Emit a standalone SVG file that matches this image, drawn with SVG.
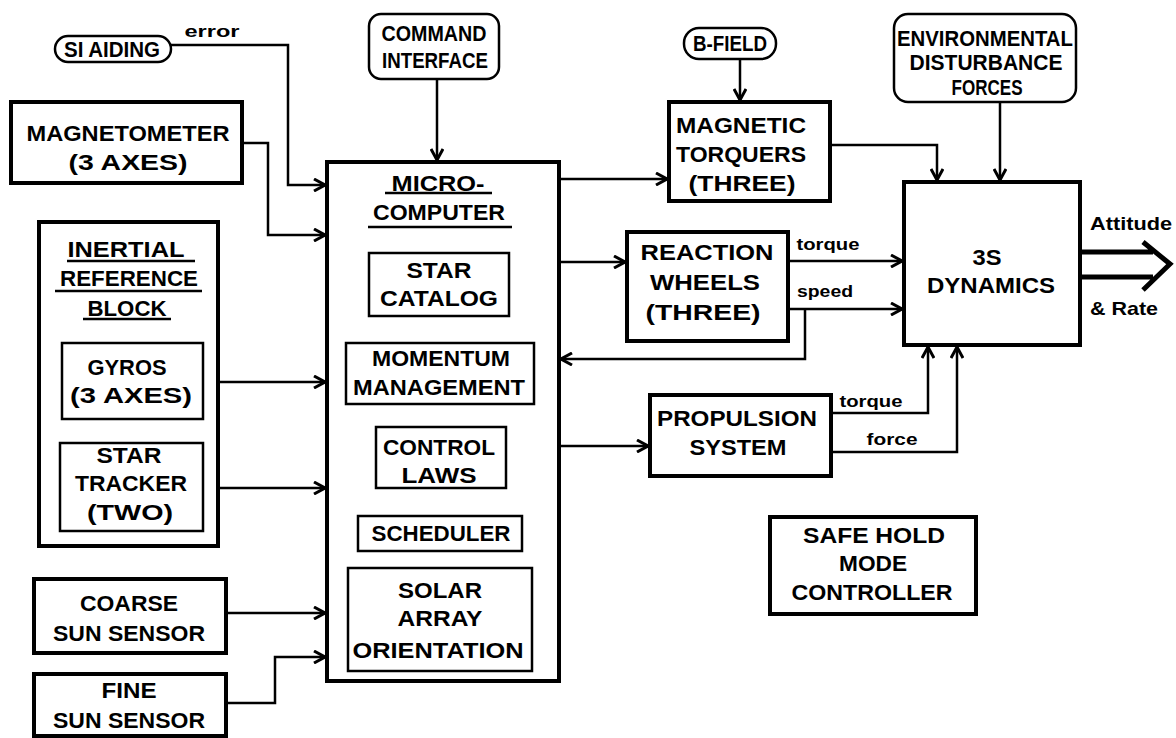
<svg xmlns="http://www.w3.org/2000/svg" width="1176" height="738" viewBox="0 0 1176 738">
<style>
.bg{fill:#fff}
.thick{fill:#fff;stroke:#000;stroke-width:4}
.thin{fill:#fff;stroke:#000;stroke-width:2.5}
.t{font-family:"Liberation Sans",Arial,sans-serif;font-weight:bold;font-size:22px;fill:#000;text-anchor:middle}
.s{font-family:"Liberation Sans",Arial,sans-serif;font-weight:bold;font-size:17px;fill:#000;text-anchor:middle}
.a{font-family:"Liberation Sans",Arial,sans-serif;font-weight:bold;font-size:19px;fill:#000;text-anchor:middle}
.c{fill:none;stroke:#000;stroke-width:2.5}
.u{stroke:#000;stroke-width:2.5}
.out{fill:none;stroke:#000;stroke-width:5}
</style>
<defs>
<marker id="ah" viewBox="0 0 14 14" refX="13" refY="7" markerWidth="14" markerHeight="14" markerUnits="userSpaceOnUse" orient="auto">
<path d="M2,1 L13,7 L2,13" fill="none" stroke="#000" stroke-width="3"/>
</marker>
</defs>
<rect class="bg" width="1176" height="738"/>

<g id="connectors">
<path class="c" d="M171,45 H288 V185 H325" marker-end="url(#ah)"/>
<path class="c" d="M242,143 H268 V235 H325" marker-end="url(#ah)"/>
<path class="c" d="M203,382 H325" marker-end="url(#ah)"/>
<path class="c" d="M203,488 H325" marker-end="url(#ah)"/>
<path class="c" d="M226,613 H325" marker-end="url(#ah)"/>
<path class="c" d="M226,703 H275 V657 H325" marker-end="url(#ah)"/>
<path class="c" d="M437,79 V160" marker-end="url(#ah)"/>
<path class="c" d="M561,179 H667" marker-end="url(#ah)"/>
<path class="c" d="M740,59 V100" marker-end="url(#ah)"/>
<path class="c" d="M830,145 H937 V180" marker-end="url(#ah)"/>
<path class="c" d="M1000,102 V180" marker-end="url(#ah)"/>
<path class="c" d="M561,262 H625" marker-end="url(#ah)"/>
<path class="c" d="M788,261 H902" marker-end="url(#ah)"/>
<path class="c" d="M788,309 H902" marker-end="url(#ah)"/>
<path class="c" d="M805,309 V359 H561" marker-end="url(#ah)"/>
<path class="c" d="M561,446 H648" marker-end="url(#ah)"/>
<path class="c" d="M831,413 H928 V347" marker-end="url(#ah)"/>
<path class="c" d="M831,452 H957 V347" marker-end="url(#ah)"/>
<path class="out" d="M1082,252 H1153 M1082,277 H1153 M1143,242 L1170,264 L1143,290"/>
<text class="s" x="212" y="37" textLength="55" lengthAdjust="spacingAndGlyphs">error</text>
<text class="s" x="828" y="250" textLength="63" lengthAdjust="spacingAndGlyphs">torque</text>
<text class="s" x="825" y="297" textLength="56" lengthAdjust="spacingAndGlyphs">speed</text>
<text class="s" x="871" y="407" textLength="63" lengthAdjust="spacingAndGlyphs">torque</text>
<text class="s" x="892" y="445" textLength="51" lengthAdjust="spacingAndGlyphs">force</text>
<text class="a" x="1131" y="230" textLength="82" lengthAdjust="spacingAndGlyphs">Attitude</text>
<text class="a" x="1124" y="315" textLength="68" lengthAdjust="spacingAndGlyphs">&amp; Rate</text>
</g>

<g id="si-aiding">
<rect class="thin" x="55" y="36" width="116" height="26" rx="13"/>
<text class="t" x="112" y="57" textLength="96" lengthAdjust="spacingAndGlyphs">SI AIDING</text>
</g>

<g id="magnetometer">
<rect class="thick" x="11" y="102" width="231" height="81"/>
<text class="t" x="128" y="141" textLength="203" lengthAdjust="spacingAndGlyphs">MAGNETOMETER</text>
<text class="t" x="128" y="170" textLength="119" lengthAdjust="spacingAndGlyphs">(3 AXES)</text>
</g>

<g id="inertial-reference-block">
<rect class="thick" x="39" y="222" width="179" height="324"/>
<text class="t" x="126" y="257" textLength="117" lengthAdjust="spacingAndGlyphs">INERTIAL</text>
<line class="u" x1="67" y1="261" x2="195" y2="261"/>
<text class="t" x="129" y="286" textLength="138" lengthAdjust="spacingAndGlyphs">REFERENCE</text>
<line class="u" x1="55" y1="291" x2="202" y2="291"/>
<text class="t" x="127" y="316" textLength="79" lengthAdjust="spacingAndGlyphs">BLOCK</text>
<line class="u" x1="83" y1="319" x2="171" y2="319"/>
</g>

<g id="gyros">
<rect class="thin" x="62" y="343" width="141" height="76"/>
<text class="t" x="127" y="375" textLength="79" lengthAdjust="spacingAndGlyphs">GYROS</text>
<text class="t" x="131" y="403" textLength="122" lengthAdjust="spacingAndGlyphs">(3 AXES)</text>
</g>

<g id="star-tracker">
<rect class="thin" x="60" y="443" width="143" height="88"/>
<text class="t" x="129" y="463" textLength="65" lengthAdjust="spacingAndGlyphs">STAR</text>
<text class="t" x="131" y="491" textLength="112" lengthAdjust="spacingAndGlyphs">TRACKER</text>
<text class="t" x="130" y="520" textLength="86" lengthAdjust="spacingAndGlyphs">(TWO)</text>
</g>

<g id="coarse-sun-sensor">
<rect class="thick" x="34" y="579" width="192" height="74"/>
<text class="t" x="129" y="611" textLength="98" lengthAdjust="spacingAndGlyphs">COARSE</text>
<text class="t" x="129" y="641" textLength="152" lengthAdjust="spacingAndGlyphs">SUN SENSOR</text>
</g>

<g id="fine-sun-sensor">
<rect class="thick" x="34" y="674" width="192" height="62"/>
<text class="t" x="129" y="698" textLength="55" lengthAdjust="spacingAndGlyphs">FINE</text>
<text class="t" x="129" y="728" textLength="152" lengthAdjust="spacingAndGlyphs">SUN SENSOR</text>
</g>

<g id="command-interface">
<rect class="thin" x="369" y="14" width="130" height="65" rx="12"/>
<text class="t" x="434" y="41" textLength="105" lengthAdjust="spacingAndGlyphs">COMMAND</text>
<text class="t" x="435" y="68" textLength="106" lengthAdjust="spacingAndGlyphs">INTERFACE</text>
</g>

<g id="microcomputer">
<rect class="thick" x="327" y="162" width="232" height="519"/>
<text class="t" x="438" y="191" textLength="93" lengthAdjust="spacingAndGlyphs">MICRO-</text>
<line class="u" x1="385" y1="193" x2="492" y2="193"/>
<text class="t" x="439" y="220" textLength="132" lengthAdjust="spacingAndGlyphs">COMPUTER</text>
<line class="u" x1="368" y1="227" x2="512" y2="227"/>
</g>

<g id="star-catalog">
<rect class="thin" x="369" y="253" width="140" height="63"/>
<text class="t" x="439" y="278" textLength="65" lengthAdjust="spacingAndGlyphs">STAR</text>
<text class="t" x="439" y="306" textLength="118" lengthAdjust="spacingAndGlyphs">CATALOG</text>
</g>

<g id="momentum-management">
<rect class="thin" x="346" y="343" width="188" height="61"/>
<text class="t" x="441" y="366" textLength="138" lengthAdjust="spacingAndGlyphs">MOMENTUM</text>
<text class="t" x="439" y="395" textLength="172" lengthAdjust="spacingAndGlyphs">MANAGEMENT</text>
</g>

<g id="control-laws">
<rect class="thin" x="376" y="427" width="130" height="61"/>
<text class="t" x="439" y="455" textLength="112" lengthAdjust="spacingAndGlyphs">CONTROL</text>
<text class="t" x="439" y="483" textLength="75" lengthAdjust="spacingAndGlyphs">LAWS</text>
</g>

<g id="scheduler">
<rect class="thin" x="358" y="516" width="164" height="35"/>
<text class="t" x="441" y="541" textLength="139" lengthAdjust="spacingAndGlyphs">SCHEDULER</text>
</g>

<g id="solar-array-orientation">
<rect class="thin" x="348" y="568" width="184" height="103"/>
<text class="t" x="440" y="598" textLength="84" lengthAdjust="spacingAndGlyphs">SOLAR</text>
<text class="t" x="440" y="626" textLength="85" lengthAdjust="spacingAndGlyphs">ARRAY</text>
<text class="t" x="438" y="658" textLength="171" lengthAdjust="spacingAndGlyphs">ORIENTATION</text>
</g>

<g id="b-field">
<rect class="thin" x="684" y="28" width="92" height="31" rx="15"/>
<text class="t" x="730" y="51" textLength="74" lengthAdjust="spacingAndGlyphs">B-FIELD</text>
</g>

<g id="environmental-disturbance-forces">
<rect class="thin" x="894" y="14" width="182" height="88" rx="14"/>
<text class="t" x="985" y="46" textLength="176" lengthAdjust="spacingAndGlyphs">ENVIRONMENTAL</text>
<text class="t" x="986" y="70" textLength="153" lengthAdjust="spacingAndGlyphs">DISTURBANCE</text>
<text class="t" x="987" y="95" textLength="71" lengthAdjust="spacingAndGlyphs">FORCES</text>
</g>

<g id="magnetic-torquers">
<rect class="thick" x="669" y="102" width="161" height="99"/>
<text class="t" x="741" y="133" textLength="130" lengthAdjust="spacingAndGlyphs">MAGNETIC</text>
<text class="t" x="741" y="162" textLength="130" lengthAdjust="spacingAndGlyphs">TORQUERS</text>
<text class="t" x="742" y="191" textLength="107" lengthAdjust="spacingAndGlyphs">(THREE)</text>
</g>

<g id="reaction-wheels">
<rect class="thick" x="627" y="232" width="161" height="109"/>
<text class="t" x="707" y="260" textLength="133" lengthAdjust="spacingAndGlyphs">REACTION</text>
<text class="t" x="705" y="290" textLength="110" lengthAdjust="spacingAndGlyphs">WHEELS</text>
<text class="t" x="703" y="320" textLength="115" lengthAdjust="spacingAndGlyphs">(THREE)</text>
</g>

<g id="propulsion-system">
<rect class="thick" x="650" y="395" width="181" height="81"/>
<text class="t" x="737" y="426" textLength="160" lengthAdjust="spacingAndGlyphs">PROPULSION</text>
<text class="t" x="738" y="455" textLength="97" lengthAdjust="spacingAndGlyphs">SYSTEM</text>
</g>

<g id="3s-dynamics">
<rect class="thick" x="904" y="182" width="176" height="163"/>
<text class="t" x="987" y="265" textLength="29" lengthAdjust="spacingAndGlyphs">3S</text>
<text class="t" x="991" y="293" textLength="128" lengthAdjust="spacingAndGlyphs">DYNAMICS</text>
</g>

<g id="safe-hold-mode-controller">
<rect class="thick" x="770" y="517" width="206" height="97"/>
<text class="t" x="874" y="543" textLength="142" lengthAdjust="spacingAndGlyphs">SAFE HOLD</text>
<text class="t" x="873" y="571" textLength="68" lengthAdjust="spacingAndGlyphs">MODE</text>
<text class="t" x="872" y="600" textLength="161" lengthAdjust="spacingAndGlyphs">CONTROLLER</text>
</g>
</svg>
